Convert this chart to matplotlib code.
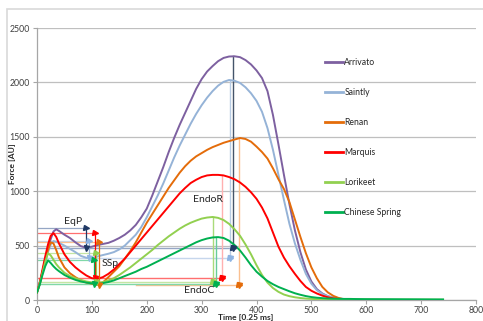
import matplotlib
matplotlib.use('Agg')
import matplotlib.pyplot as plt
from matplotlib.patches import Rectangle

plt.rcParams['font.family'] = ['Lato', 'DejaVu Sans']

# ---------------- data ----------------
time = [0, 5, 10, 15, 20, 25, 30, 35, 40, 50, 60, 70, 80, 90, 100, 110, 120, 130, 140,
        150, 160, 170, 180, 190, 200, 210, 220, 230, 240, 250, 260, 270, 280, 290, 300,
        310, 320, 330, 340, 350, 360, 370, 380, 390, 400, 410, 420, 430, 440, 450, 460,
        470, 480, 490, 500, 510, 520, 530, 540, 550, 560, 570, 580]

arrivato = [70, 150, 260, 370, 470, 560, 630, 650, 635, 600, 570, 530, 495, 480, 490, 505,
            515, 525, 545, 570, 600, 640, 690, 760, 840, 960, 1090, 1220, 1360, 1490, 1610,
            1720, 1830, 1940, 2030, 2100, 2150, 2195, 2225, 2238, 2240, 2232, 2205, 2165,
            2110, 2040, 1920, 1700, 1430, 1150, 880, 640, 440, 280, 170, 100, 60, 35, 20,
            12, 7, 4, 2]

saintly = [70, 150, 250, 350, 440, 510, 542, 535, 525, 500, 470, 440, 405, 388, 385, 400,
           413, 425, 440, 465, 500, 550, 600, 670, 760, 860, 960, 1070, 1190, 1310, 1420,
           1520, 1620, 1710, 1790, 1860, 1920, 1970, 2005, 2022, 2015, 1995, 1955, 1900,
           1830, 1730, 1580, 1380, 1150, 920, 700, 520, 370, 240, 150, 90, 55, 35, 22, 14,
           9, 6, 3]

renan = [70, 150, 260, 370, 460, 530, 520, 460, 390, 300, 246, 210, 180, 160, 150, 140,
         160, 210, 260, 310, 380, 450, 530, 620, 710, 790, 870, 950, 1030, 1100, 1170, 1230,
         1280, 1320, 1350, 1380, 1405, 1425, 1445, 1460, 1475, 1489, 1480, 1455, 1410, 1360,
         1300, 1210, 1110, 1020, 900, 740, 580, 430, 300, 200, 120, 70, 38, 18, 6, 2, 0]

marquis = [70, 160, 280, 400, 510, 590, 615, 580, 520, 420, 350, 300, 260, 225, 200, 195,
           210, 240, 280, 330, 380, 440, 500, 560, 620, 680, 740, 800, 860, 920, 980, 1030,
           1075, 1105, 1130, 1145, 1150, 1150, 1145, 1130, 1110, 1080, 1040, 990, 930, 850,
           750, 620, 490, 390, 310, 240, 175, 120, 85, 60, 40, 25, 15, 8, 4, 2, 0]

lorikeet = [70, 150, 250, 350, 430, 410, 370, 330, 300, 250, 220, 200, 185, 170, 162, 158,
            165, 180, 200, 230, 265, 300, 340, 380, 420, 460, 505, 545, 585, 620, 655, 685,
            710, 730, 748, 758, 763, 755, 735, 700, 650, 590, 510, 420, 320, 230, 160, 110,
            75, 50, 35, 25, 18, 13, 10, 8, 6, 5, 5, 4, 4, 4, 4]

chinese_spring = [70, 140, 230, 310, 365, 340, 310, 285, 265, 230, 205, 185, 170, 160, 153,
                  150, 155, 165, 180, 200, 220, 240, 260, 285, 305, 330, 355, 380, 405, 430,
                  455, 480, 505, 530, 550, 565, 575, 578, 570, 545, 505, 455, 390, 320, 260,
                  215, 175, 145, 120, 100, 80, 62, 48, 36, 27, 21, 17, 14, 12, 11, 10, 10, 9]

tail_time = [600, 650, 700, 740]
lorikeet_tail = [4, 3, 3, 3]
chinese_spring_tail = [8, 7, 6, 5]

names = ['Arrivato', 'Saintly', 'Renan', 'Marquis', 'Lorikeet', 'Chinese Spring']

# annotation values (same order as names)
eq_peak = [660, 542, 536, 615, 430, 365]
eq_time = [90, 95, 113, 105, 108, 103]
ss_min = [478, 388, 138, 198, 162, 150]
min_line_start = [0, 0, 180, 0, 0, 0]
endo_peak = [2240, 2022, 1489, 1150, 763, 578]
endo_time = [358, 351, 369, 338, 320, 327]

x_ticks = [0, 100, 200, 300, 400, 500, 600, 700, 800]
y_ticks = [0, 500, 1000, 1500, 2000, 2500]

# ---------------- styling ----------------
colors = ['#7D60A0', '#95B3D7', '#E46C0A', '#FF0000', '#92D050', '#00B050']
head_colors = ['#1F3864', '#8EB4E3', '#E46C0A', '#FF0000', '#92D050', '#00B050']
faint_colors = ['#95A6C4', '#C6D6EC', '#FAC090', '#FF6F6F', '#C4E5A3', '#80D8A8']
endo_vcolors = ['#44546A', '#B8CCE4', '#FAC090', '#FFB0B0', '#A9DB7A', '#66CC99']

fig = plt.figure(figsize=(4.83, 3.21), dpi=100)
ax = fig.add_axes([37 / 483, 21 / 321, 439 / 483, 272 / 321])

series = [arrivato, saintly, renan, marquis, lorikeet, chinese_spring]
for name, vals, c in zip(names, series, colors):
    t = list(time)
    v = list(vals)
    if name == 'Lorikeet':
        t += tail_time
        v += lorikeet_tail
    elif name == 'Chinese Spring':
        t += tail_time
        v += chinese_spring_tail
    ax.plot(t, v, color=c, lw=1.4, label=name, zorder=3, solid_joinstyle='round')

# annotations
ms = 3.6
for i in range(len(names)):
    # EqP: horizontal at first peak + vertical down to minimum
    ax.plot([0, eq_time[i]], [eq_peak[i]] * 2, color=faint_colors[i], lw=0.9, zorder=2)
    ax.plot([eq_time[i]] * 2, [eq_peak[i], ss_min[i]], color=colors[i] if i != 0 else '#1F3864',
            lw=0.9, zorder=4)
    ax.plot([eq_time[i]], [eq_peak[i]], marker='>', ms=ms, color=head_colors[i], zorder=5,
            ls='none')
    ax.plot([eq_time[i]], [ss_min[i]], marker='v', ms=ms, color=head_colors[i], zorder=5,
            ls='none')
    # EndoC: horizontal at minimum to peak time
    ax.plot([min_line_start[i], endo_time[i]], [ss_min[i]] * 2, color=faint_colors[i],
            lw=1.0, zorder=2)
    ax.plot([endo_time[i]], [ss_min[i]], marker='>', ms=ms, color=head_colors[i], zorder=5,
            ls='none')
    # EndoR: vertical from main peak down to minimum level
    ax.plot([endo_time[i]] * 2, [endo_peak[i], ss_min[i]], color=endo_vcolors[i], lw=1.0,
            zorder=2)
    ax.plot([endo_time[i]], [ss_min[i]], marker='v', ms=ms, color=head_colors[i], zorder=5,
            ls='none')

txt_kw = dict(fontsize=7.5, color='#262626', ha='center', va='center', zorder=6)
ax.text(66, 726, 'EqP', **txt_kw)
ax.text(133, 331, 'SSp', **txt_kw)
ax.text(311, 928, 'EndoR', **txt_kw)
ax.text(295, 83, 'EndoC', **txt_kw)

ax.set_xlim(0, 800)
ax.set_ylim(0, 2500)
ax.set_xticks(x_ticks)
ax.set_yticks(y_ticks)
ax.yaxis.grid(True, color='#BFBFBF', lw=0.9)
ax.set_axisbelow(True)
for s in ['top', 'right']:
    ax.spines[s].set_visible(False)
for s in ['left', 'bottom']:
    ax.spines[s].set_color('#A6A6A6')
    ax.spines[s].set_linewidth(0.9)
ax.tick_params(axis='both', direction='out', length=3, width=0.8, color='#A6A6A6',
               labelsize=6.3, labelcolor='#404040', pad=1.5)
ax.tick_params(axis='y', pad=2)

ax.set_xlabel('Time [0.25 ms]', fontsize=6, fontweight='bold', color='#262626')
ax.xaxis.set_label_coords(0.475, -0.051)
ax.set_ylabel('Force [AU]', fontsize=6, fontweight='bold', color='#262626')
ax.yaxis.set_label_coords(-0.048, 0.50)

leg = ax.legend(loc='upper left', bbox_to_anchor=((325 - 37) / 439, (300 - 58) / 272),
                frameon=False, fontsize=6.2, handlelength=2.1, handletextpad=0.15,
                labelspacing=2.45, borderpad=0, borderaxespad=0)
for line in leg.get_lines():
    line.set_linewidth(2.0)
for t in leg.get_texts():
    t.set_color('#262626')

fig.patches.append(Rectangle((7 / 483, -0.1), 1.2, 1 - 9 / 321 + 0.1, transform=fig.transFigure,
                             fill=False, edgecolor='#D9D9D9', lw=1.2))

fig.savefig('out.png', dpi=100)
